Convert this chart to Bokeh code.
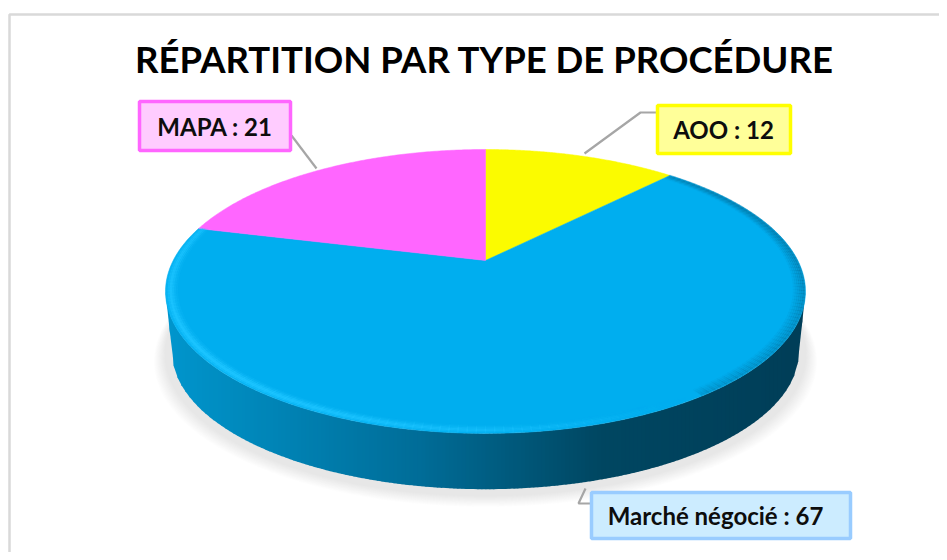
import numpy as np
from bokeh.plotting import figure
from bokeh.embed import file_html
from bokeh.resources import INLINE
from bokeh.core.properties import value

TITLE = "RÉPARTITION PAR TYPE DE PROCÉDURE"
categories = ["AOO", "Marché négocié", "MAPA"]
values = [12, 67, 21]
slice_colors = ["#FBFB00", "#00AEEF", "#FF66FF"]
box_fill = ["#FFFF99", "#CCECFF", "#FFCCFF"]
box_line = ["#FFFF00", "#99CCFF", "#FF66FF"]
box_rect = [(657, 105, 790, 153), (591, 492, 850, 538), (139, 101, 290, 150)]
label_x = [723, 715, 214.5]
leaders = [([584, 640, 657], [153, 112, 112]),
           ([585, 578, 591], [488, 503, 503]),
           ([316, 291], [168, 135])]

FONT = "Lato"
W, H = 939, 552
p = figure(width=W, height=H, x_range=(0, W), y_range=(H, 0),
           output_backend="svg", toolbar_location=None, min_border=0)
p.axis.visible = False
p.grid.visible = False
p.outline_line_color = None
p.background_fill_color = "white"

# frame
p.line([W + 5, 9, 9], [14, 14, H + 5], line_color="#D9D9D9", line_width=2.5)

CX, AY = 485, 260
K, HH, R = 0.218, 135.2, 312.3


def proj(theta, scale=1.0, dy=0.0, rx=R, ry=HH):
    u, v = np.sin(theta) * scale, np.cos(theta) * scale
    w = 1 + K * v
    return CX + rx * u / w, AY + dy - ry * v / w


# soft shadow
for i in range(12):
    t = np.linspace(0, 2 * np.pi, 160)
    x, y = proj(t, rx=R * (1.0 + 0.003 * (12 - i)), ry=HH * (1.0 + 0.002 * (12 - i)),
                dy=62 + 0.6 * (12 - i))
    p.patch(x, y, fill_color="#808080", fill_alpha=0.018, line_color=None)

# wall
stops_x = [172, 420, 600, 805]
stops_g = [0x95, 0x6D, 0x47, 0x3E]
stops_b = [0xCC, 0x98, 0x62, 0x58]
DEPTH = 61
a0 = np.arccos(-K)
th = np.linspace(a0, 2 * np.pi - a0, 241)
tx, ty = proj(th)
bx, by = proj(th, rx=R * 0.98, ry=HH * 0.97, dy=DEPTH)
to = np.argsort(tx)
bo = np.argsort(bx)
bqx = np.r_[tx.min(), bx[bo], tx.max()]
bqy = np.r_[ty[to][0], by[bo], ty[to][-1]]
xs = np.linspace(tx.min(), tx.max(), 161)
top_at = lambda q: np.interp(q, tx[to], ty[to])
bot_at = lambda q: np.interp(q, bqx, bqy)
sx, sy, sc = [], [], []
for a, b in zip(xs[:-1], xs[1:]):
    b2 = min(b + 0.8, tx.max())
    sx.append([a, b2, b2, a])
    sy.append([top_at(a), top_at(b2), bot_at(b2), bot_at(a)])
    m = (a + b) / 2
    sc.append(f"#00{int(np.interp(m, stops_x, stops_g)):02X}{int(np.interp(m, stops_x, stops_b)):02X}")
p.patches(sx, sy, fill_color=sc, line_color=None)

# top face
total = sum(values)
ang = np.cumsum([0] + values) / total * 2 * np.pi
for i, c in enumerate(slice_colors):
    t = np.linspace(ang[i], ang[i + 1], 140)
    x, y = proj(t)
    p.patch([CX, *x], [AY, *y], fill_color=c, line_color=c, line_width=0.5)

# soft bevel of the blue slice
t = np.linspace(ang[1], ang[2], 181)
for scale, fade in [(0.996, 0.3), (0.99, 0.65), (0.984, 0.95), (0.978, 0.65), (0.972, 0.35), (0.966, 0.15)]:
    mx, my, mc, ma = [], [], [], []
    for a, b in zip(t[:-1], t[1:]):
        mid = (a + b) / 2
        x, y = proj(np.array([a, b + 0.004]), scale=scale)
        br = max(0.0, np.cos(mid - np.radians(235))) ** 1.5
        dk = max(0.0, np.cos(mid - np.radians(95))) ** 1.5 * 0.32 * max(0.0, (scale - 0.96) / 0.036)
        mx.append(x)
        my.append(y)
        mc.append("#1CC4FF" if br > 0 else "#0B5F84")
        ma.append(float(br * fade if br > 0 else dk))
    p.multi_line(mx, my, line_color=mc, line_alpha=ma, line_width=2.4)

# leaders
for lxs, lys in leaders:
    p.line(lxs, lys, line_color="#A6A6A6", line_width=2.2)

# labels
for c, v, f, l, lx_, (x0, y0, x1, y1) in zip(categories, values, box_fill, box_line, label_x, box_rect):
    p.quad(left=x0, right=x1, top=y0, bottom=y1, fill_color=f, line_color=l, line_width=3.5)
    p.text([lx_], [(y0 + y1) / 2], text=[f"{c} : {v}"],
           text_font=value(FONT), text_font_style="bold", text_font_size="24px",
           text_align="center", text_baseline="middle", text_color="#0D0D0D")

p.text([484], [58], text=[TITLE], text_font=value(FONT), text_font_style="bold",
       text_font_size="36.5px", text_align="center", text_baseline="middle", text_color="#000000")

open("out.html", "w").write(file_html(p, INLINE))
